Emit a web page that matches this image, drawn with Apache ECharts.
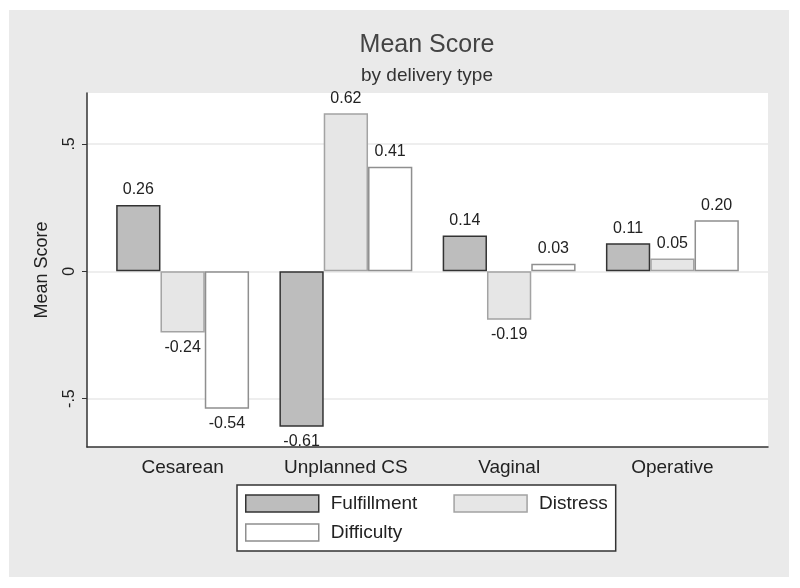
<!DOCTYPE html>
<html>
<head>
<meta charset="utf-8">
<script src="https://cdn.jsdelivr.net/npm/echarts@6/dist/echarts.min.js"></script>
<style>
  html, body { margin: 0; padding: 0; background: #ffffff; }
  #chart { width: 800px; height: 588px; }
</style>
</head>
<body>
<div id="chart"></div>
<script>
// ---- data ----
const categories = ['Cesarean', 'Unplanned CS', 'Vaginal', 'Operative'];
const seriesNames = ['Fulfillment', 'Distress', 'Difficulty'];
const fulfillment = [0.26, -0.61, 0.14, 0.11];
const distress = [-0.24, 0.62, -0.19, 0.05];
const difficulty = [-0.54, 0.41, 0.03, 0.20];
const yTicks = [-0.5, 0, 0.5];
const yTickLabels = ['-.5', '0', '.5'];

const FONT = '"Liberation Sans", Arial, sans-serif';
const fills = ['#bdbdbd', '#e6e6e6', '#ffffff'];
const borders = ['#333333', '#a3a3a3', '#8f8f8f'];

function buildData(values) {
  return values.map(v => ({
    value: v,
    label: { position: v < 0 ? 'bottom' : 'top' }
  }));
}

const allValues = [fulfillment, distress, difficulty];
const series = seriesNames.map((name, i) => ({
  name: name,
  type: 'bar',
  xAxisIndex: 1,
  yAxisIndex: 1,
  barWidth: 44.3,
  barGap: '0%',
  data: buildData(allValues[i]),
  itemStyle: { color: fills[i], borderColor: borders[i], borderWidth: 1.5 },
  label: {
    show: true,
    distance: 7,
    fontFamily: FONT,
    fontSize: 16,
    color: '#222',
    formatter: p => p.value.toFixed(2)
  }
}));

const chart = echarts.init(document.getElementById('chart'), null, { renderer: 'canvas' });
chart.setOption({
  backgroundColor: '#ffffff',
  animation: false,
  graphic: [{
    type: 'rect', z: -100, silent: true,
    shape: { x: 9, y: 10, width: 780, height: 567 },
    style: { fill: '#eaeaea' }
  }],
  title: [
    { text: 'Mean Score', left: 427, top: 33, textAlign: 'center', padding: 0,
      textStyle: { fontFamily: FONT, fontSize: 25, fontWeight: 'normal', color: '#444' } },
    { text: 'by delivery type', left: 427, top: 66, textAlign: 'center', padding: 0,
      textStyle: { fontFamily: FONT, fontSize: 19, fontWeight: 'normal', color: '#333' } }
  ],
  legend: {
    left: 237, top: 485, width: 370,
    orient: 'horizontal',
    padding: [9, 8, 9, 8],
    itemWidth: 73, itemHeight: 17, itemGap: 10,
    borderColor: '#333', borderWidth: 1.5, backgroundColor: '#ffffff',
    icon: 'rect',
    itemStyle: { borderWidth: 1.5 },
    textStyle: { fontFamily: FONT, fontSize: 19, color: '#222', lineHeight: 18, padding: [0, 0, 0, 7] },
    data: [
      { name: 'Fulfillment', textStyle: { padding: [0, 26, 0, 7] } },
      { name: 'Distress' },
      { name: 'Difficulty' }
    ]
  },
  grid: [
    { left: 87, right: 32, top: 93, bottom: 141, show: true, backgroundColor: '#ffffff', borderWidth: 0, containLabel: false },
    { left: 101, right: 46, top: 93, bottom: 141, containLabel: false }
  ],
  xAxis: [
    { type: 'value', gridIndex: 0, min: 0, max: 1, position: 'bottom',
      axisLine: { show: true, onZero: false, lineStyle: { color: '#333', width: 1.5 } },
      axisTick: { show: false }, axisLabel: { show: false }, splitLine: { show: false } },
    { type: 'category', gridIndex: 1, data: categories, position: 'bottom',
      axisLine: { show: false }, axisTick: { show: false }, splitLine: { show: false },
      axisLabel: { fontFamily: FONT, fontSize: 19, color: '#222', margin: 11 } }
  ],
  yAxis: [
    { type: 'value', gridIndex: 0, min: -0.69, max: 0.7,
      name: 'Mean Score', nameLocation: 'middle', nameGap: 36,
      nameTextStyle: { fontFamily: FONT, fontSize: 18, color: '#222' },
      axisLine: { show: true, onZero: false, lineStyle: { color: '#333', width: 1.5 } },
      axisTick: { show: true, length: 5, customValues: yTicks, lineStyle: { color: '#333' } },
      axisLabel: { customValues: yTicks, rotate: 90, margin: 9, fontFamily: FONT, fontSize: 16, color: '#222',
        formatter: v => yTickLabels[yTicks.indexOf(Math.round(v * 10) / 10)] },
      splitLine: { show: true, lineStyle: { color: '#e8e8e8', width: 1.5 } } },
    { type: 'value', gridIndex: 1, min: -0.69, max: 0.7, show: false,
      splitLine: { show: false } }
  ],
  series: series
});
</script>
</body>
</html>
